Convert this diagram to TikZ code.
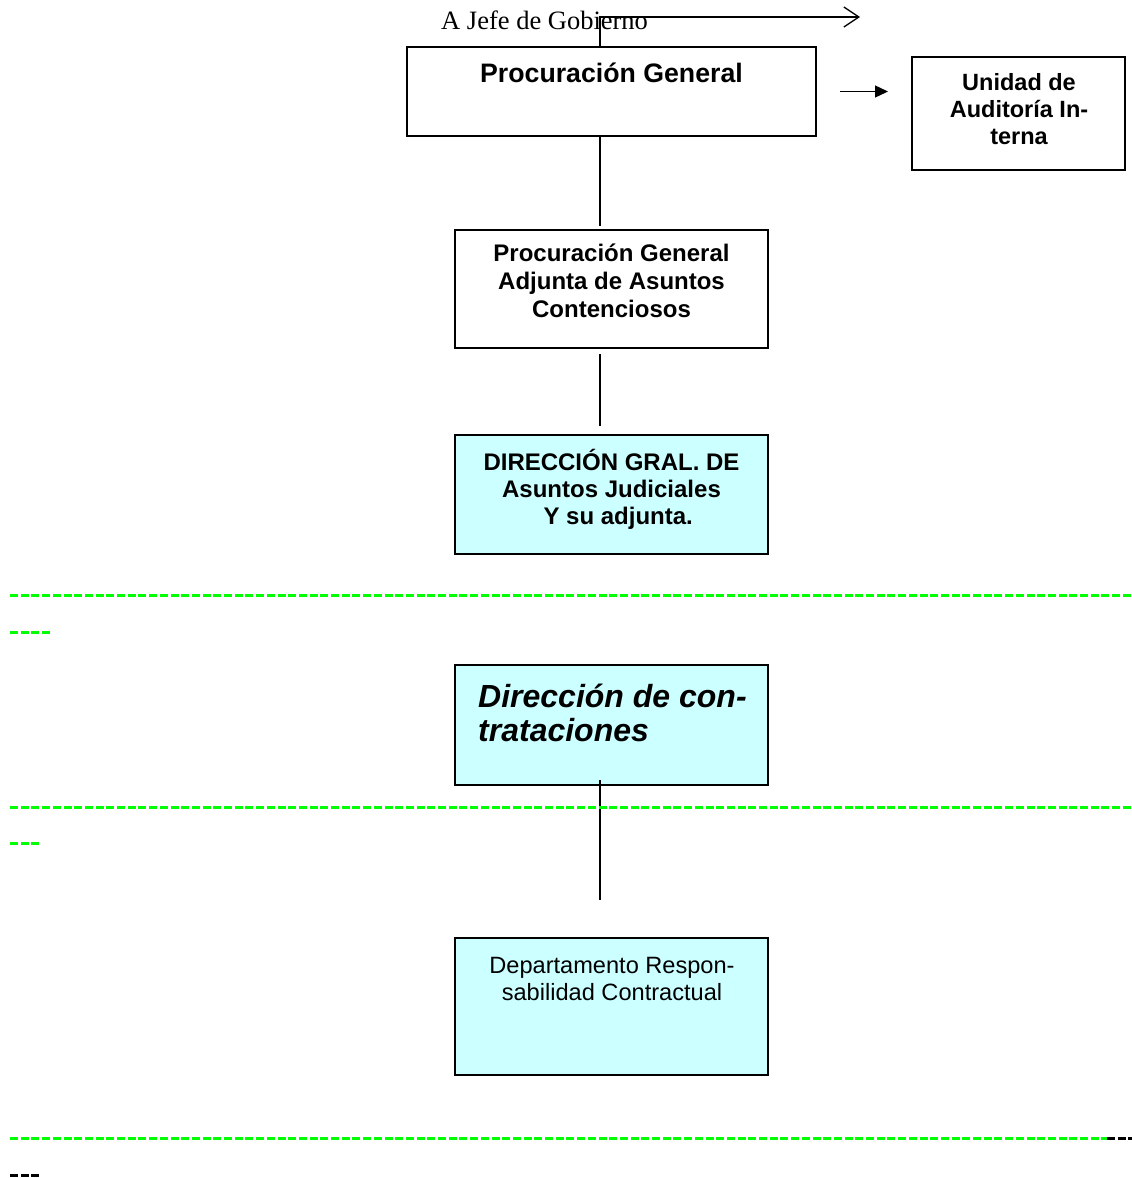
\documentclass[tikz,border=0pt]{standalone}
\usepackage{fontspec}
\setmainfont{Liberation Serif}
\newfontfamily\arial{Liberation Sans}
\usetikzlibrary{arrows.meta,shadows,calc}
\definecolor{boxcyan}{HTML}{CCFFFF}
\definecolor{dashgreen}{HTML}{00FF00}
\begin{document}
\begin{tikzpicture}[x=1pt,y=-1pt,
  box/.style={draw=black, fill=white, line width=1.6pt, anchor=north west, inner sep=0pt, outer sep=0pt,
    drop shadow={shadow xshift=1.3pt, shadow yshift=-1.3pt, fill=black!45, opacity=1}},
  cyanbox/.style={box, fill=boxcyan},
  boxtext/.style={anchor=base, inner sep=0pt, align=center},
  conn/.style={draw=black, line width=1.3pt},
  gdash/.style={draw=dashgreen, line width=3pt, dash pattern=on 8pt off 2.7pt},
  kdash/.style={draw=black, line width=3pt, dash pattern=on 8pt off 2.7pt},
]
\useasboundingbox (0,0) rectangle (1132,1178);
\fill[white] (0,0) rectangle (1132,1178);

% title text
\node[anchor=base west, inner sep=0pt, font=\fontsize{26.5}{30}\selectfont] (jefe) at (441,29) {A Jefe de Gobierno};

% boxes (text nodes anchored at the baseline of their last line)
\node[box, minimum width=409, minimum height=89] (pg) at (407,47) {};
\node[boxtext, font=\arial\bfseries\fontsize{26.7}{30}\selectfont] (pgt) at (611.5,82) {Procuración General};

\node[box, minimum width=213, minimum height=113] (ua) at (912,57) {};
\node[boxtext, font=\arial\bfseries\fontsize{23.5}{27}\selectfont] (uat) at (1019,144) {Unidad de\\Auditoría In-\\terna};

\node[box, minimum width=313, minimum height=118] (pa) at (455,230) {};
\node[boxtext, font=\arial\bfseries\fontsize{24}{27.6}\selectfont] (pat) at (611.5,317) {Procuración General\\Adjunta de Asuntos\\Contenciosos};

\node[cyanbox, minimum width=313, minimum height=119] (dg) at (455,435) {};
\node[boxtext, font=\arial\bfseries\fontsize{24}{27}\selectfont] (dgt) at (611.5,524) {DIRECCIÓN GRAL. DE\\Asuntos Judiciales\\\hphantom{x}Y su adjunta.};

\node[cyanbox, minimum width=313, minimum height=120] (dc) at (455,665) {};
\node[anchor=base west, inner sep=0pt, align=left, font=\arial\bfseries\itshape\fontsize{32}{34}\selectfont] (dct) at (478,741) {Dirección de con-\\trataciones};

\node[cyanbox, minimum width=313, minimum height=137] (dr) at (455,938) {};
\node[boxtext, font=\arial\fontsize{23.6}{27}\selectfont] (drt) at (612,1000) {Departamento Respon-\\sabilidad Contractual};

% connectors
\coordinate (jg) at (600,17);
\coordinate (jgend) at (860,17);
\draw[conn, -{Straight Barb[length=15pt,width=20pt,line width=1.3pt]}] (pg.north -| jg) -- (jg) -- (jgend);
\draw[conn, -{Triangle[length=13pt,width=12pt]}] ([xshift=24pt]pg.east) -- ([xshift=-24pt]ua.west |- pg.east);
\draw[conn] (pg.south -| jg) -- ([yshift=4pt]pa.north -| jg);
\draw[conn] ([yshift=-6pt]pa.south -| jg) -- ([yshift=9pt]dg.north -| jg);
\draw[conn] ([yshift=5pt]dc.south -| jg) -- ([yshift=38pt]dr.north -| jg);

% dashed separators
\draw[gdash] (10,595) -- (1132,595);
\draw[gdash] (10,632) -- (50.1,632);
\draw[gdash] (10,807) -- (1132,807);
\draw[gdash] (10,843) -- (39.4,843);
\draw[gdash] (10,1138) -- (1107,1138);
\draw[kdash] (1107,1138) -- (1132,1138);
\draw[kdash] (10,1175) -- (39.4,1175);
\end{tikzpicture}
\end{document}
